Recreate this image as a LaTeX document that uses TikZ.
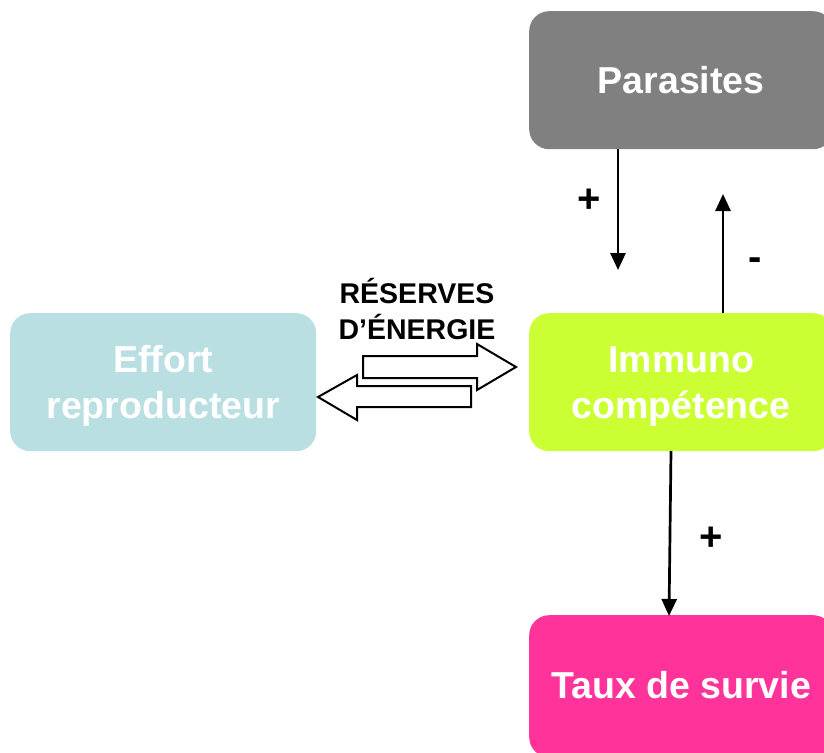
\documentclass[tikz,border=0pt]{standalone}
\usepackage{fontspec}
\setmainfont{Liberation Sans}
\usetikzlibrary{arrows.meta}
\definecolor{parasitegray}{HTML}{808080}
\definecolor{immunolime}{HTML}{CCFF33}
\definecolor{effortblue}{HTML}{B9DFE3}
\definecolor{survivepink}{HTML}{FF3399}
\tikzset{
  box/.style={rounded corners=20pt, minimum width=304pt, minimum height=138pt,
    inner sep=0pt},
  boxtext/.style={text=white, font=\bfseries\fontsize{37.5}{46}\selectfont, align=center, inner sep=0pt},
  link/.style={line width=2.7pt, -{Triangle[length=17pt,width=15pt]}},
  sign/.style={font=\bfseries\fontsize{40}{44}\selectfont, text=black},
  blockarrow/.style={draw=black, line width=2pt, fill=white, line join=miter}
}
\begin{document}
\begin{tikzpicture}[x=1pt,y=-1pt]
\useasboundingbox (0,0) rectangle (824,752);
\begin{scope}
\clip (0,0) rectangle (824,752);
% boxes
\node[box, fill=parasitegray, anchor=north west,
  label={[boxtext]center:Parasites}] (par) at (529,11) {};
\node[box, fill=immunolime, anchor=north west,
  label={[boxtext, yshift=-4pt]center:{Immuno\\compétence}}] (imm) at (529,313) {};
\node[box, fill=effortblue, anchor=north west, minimum width=306pt,
  label={[boxtext, yshift=-4pt]center:{Effort\\reproducteur}}] (eff) at (10,313) {};
\node[box, fill=survivepink, anchor=north west, minimum height=142pt,
  label={[boxtext, yshift=1pt]center:{Taux de survie}}] (sur) at (529,615) {};
\end{scope}
% connectors
\coordinate (p1) at (618,149);
\coordinate (i1) at (618,270);
\draw[link] (p1) -- (i1);
\coordinate (i2) at (723,313);
\coordinate (p2) at (723,194);
\draw[link] (i2) -- (p2);
\coordinate (i3) at (671,451);
\coordinate (s3) at (669,616);
\draw[link] (i3) -- (s3);
\node[sign] (plusA) at (589,201) {+};
\node[sign] (minus) at (755,264) {-};
\node[sign] (plusB) at (711,539) {+};
% energy exchange
\node[font=\bfseries\fontsize{28.5}{36}\selectfont, align=center, inner sep=0pt] (res) at (417,309) {RÉSERVES\\D’ÉNERGIE};
\draw[blockarrow] (363,356) -- (477,356) -- (477,344) -- (516,367) -- (477,390) -- (477,378) -- (363,378) -- cycle;
\draw[blockarrow] (471,386) -- (357,386) -- (357,375) -- (318,397) -- (357,420) -- (357,407) -- (471,407) -- cycle;
\end{tikzpicture}
\end{document}
